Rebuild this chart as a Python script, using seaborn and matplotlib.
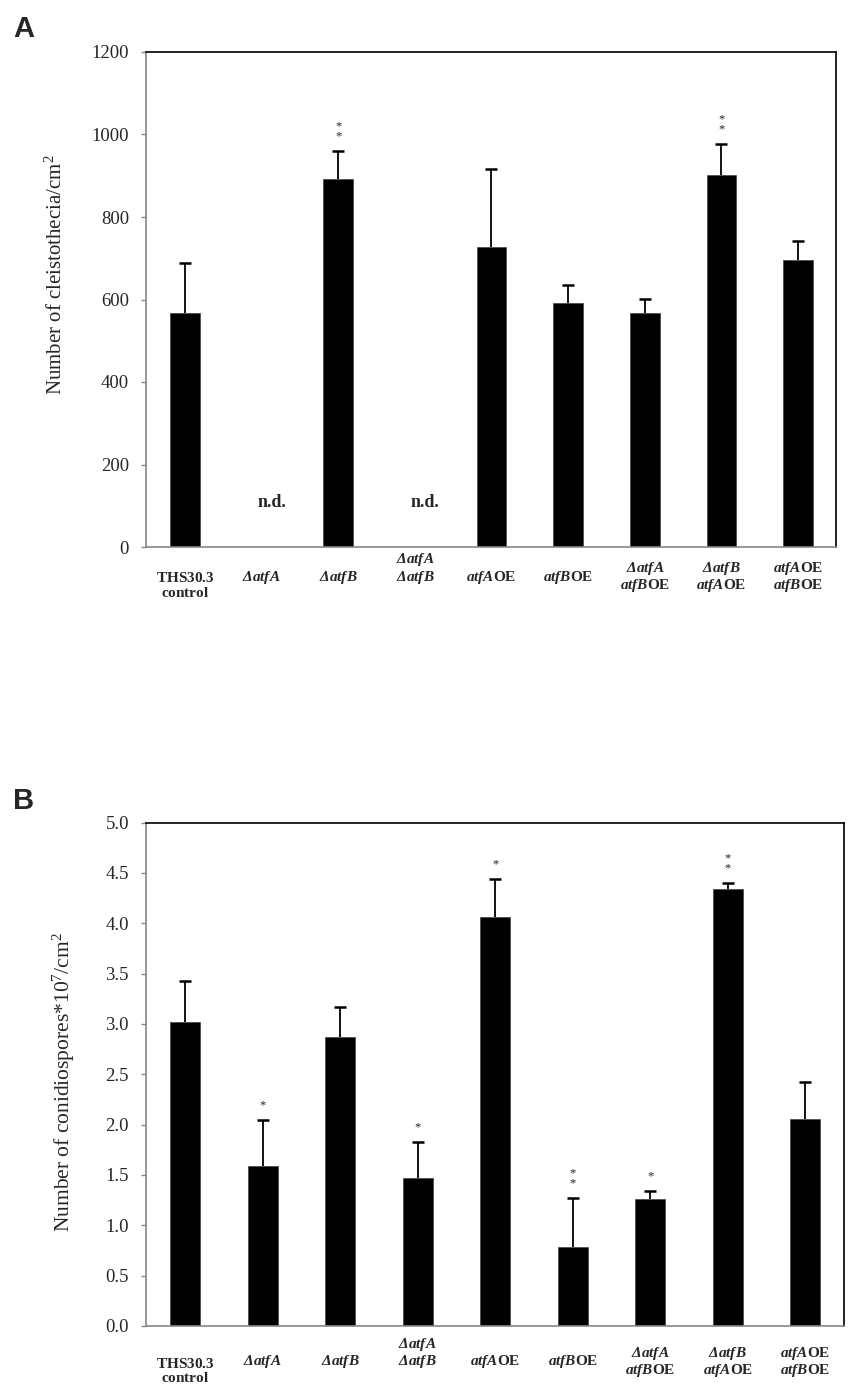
import numpy as np
import pandas as pd
import matplotlib
matplotlib.use("Agg")
import matplotlib.pyplot as plt
import matplotlib.transforms as mtransforms
import seaborn as sns

# ---------------- data ----------------
labels = [
    "$\\mathbf{THS30.3}$\n$\\mathbf{control}$",
    r"$\mathbfit{Δatf A}$",
    r"$\mathbfit{Δatf B}$",
    "$\\mathbfit{Δatf A}$\n$\\mathbfit{Δatf B}$",
    r"$\mathbfit{atf A}$OE",
    r"$\mathbfit{atf B}$OE",
    "$\\mathbfit{Δatf A}$\n$\\mathbfit{atf B}$OE",
    "$\\mathbfit{Δatf B}$\n$\\mathbfit{atf A}$OE",
    "$\\mathbfit{atf A}$OE\n$\\mathbfit{atf B}$OE",
]
cleisto_mean = [567, 0, 893, 0, 727, 592, 567, 901, 696]
cleisto_err = [121, 0, 67, 0, 189, 43, 34, 77, 46]
cleisto_sig = ["", "", "**", "", "", "", "", "**", ""]
cleisto_nd = [False, True, False, True, False, False, False, False, False]

conidia_mean = [3.02, 1.59, 2.87, 1.47, 4.06, 0.78, 1.26, 4.34, 2.06]
conidia_err = [0.41, 0.46, 0.30, 0.36, 0.38, 0.49, 0.08, 0.06, 0.36]
conidia_sig = ["", "*", "", "*", "*", "**", "*", "**", ""]

# ---------------- style ----------------
sns.set_style("white")
plt.rcParams["font.family"] = ["Liberation Serif", "DejaVu Serif"]
plt.rcParams["mathtext.fontset"] = "custom"
plt.rcParams["mathtext.rm"] = "Liberation Serif"
plt.rcParams["mathtext.it"] = "Liberation Serif:italic"
plt.rcParams["mathtext.bf"] = "Liberation Serif:bold"
plt.rcParams["mathtext.bfit"] = "Liberation Serif:italic:bold"

W, H = 854, 1392
fig = plt.figure(figsize=(W / 100, H / 100), dpi=100)


def fr(x0, y0, x1, y1):
    return [x0 / W, 1 - y1 / H, (x1 - x0) / W, (y1 - y0) / H]


axA = fig.add_axes(fr(146.5, 52, 836.5, 547))
axB = fig.add_axes(fr(146.5, 822.5, 844, 1326))

# vertical alignment of the multi-line category labels in the original
valign = ["top", "c", "c", "bottom", "c", "c", "c", "c", "c"]


def draw(ax, mean, err, sig, ylim, yticks, fmt, ylabel, label_xy, lab_px,
         line_px, ylab_size):
    df = pd.DataFrame({"cat": [str(i) for i in range(len(mean))], "val": mean})
    sns.barplot(data=df, x="cat", y="val", color="black", width=0.39,
                saturation=1, ax=ax, edgecolor="#444444", linewidth=0.5)
    xs = np.arange(len(mean))
    m = np.array(mean, dtype=float)
    e = np.array(err, dtype=float)
    keep = e > 0
    _, caps, _ = ax.errorbar(xs[keep], m[keep],
                             yerr=[np.zeros(keep.sum()), e[keep]],
                             fmt="none", ecolor="black", elinewidth=1.3,
                             capsize=4, capthick=1.8, zorder=3)
    caps[0].set_visible(False)  # only the upper cap, as in the original
    for i, s in enumerate(sig):
        if s:
            ax.annotate("\n".join(list(s)), xy=(i, m[i] + e[i]),
                        xytext=(0, 6), textcoords="offset points",
                        ha="center", va="bottom", fontsize=9,
                        linespacing=0.8, color="#222222")
    ax.set_xlim(-0.5, len(mean) - 0.5)
    ax.set_ylim(*ylim)
    ax.set_yticks(yticks)
    ax.set_yticklabels([fmt.format(v) for v in yticks], fontsize=13.5)
    ax.set_xticks(xs)
    ax.set_xticklabels([])
    ax.tick_params(axis="x", length=0)
    ax.tick_params(axis="y", length=3.6, width=1, color="#888888",
                   direction="out", pad=9, left=True)
    base = mtransforms.blended_transform_factory(ax.transData, ax.transAxes)
    for i, (lab, v) in enumerate(zip(labels, valign)):
        dy = -lab_px
        if v == "top":
            dy -= line_px / 2
        elif v == "bottom":
            dy += line_px / 2
        tr = base + mtransforms.ScaledTranslation(0, dy / 100, fig.dpi_scale_trans)
        ax.text(i, 0, lab, transform=tr, ha="center", va="center",
                fontsize=11, fontweight="bold", linespacing=1.08,
                multialignment="center")
    ax.set_xlabel("")
    ax.set_ylabel(ylabel, fontsize=ylab_size)
    ax.yaxis.set_label_coords(*label_xy)
    for sp in ["top", "right"]:
        ax.spines[sp].set_visible(True)
        ax.spines[sp].set_color("black")
        ax.spines[sp].set_linewidth(1.2)
    for sp in ["left", "bottom"]:
        ax.spines[sp].set_visible(True)
        ax.spines[sp].set_color("#888888")
        ax.spines[sp].set_linewidth(1.2)


draw(axA, cleisto_mean, cleisto_err, cleisto_sig, (0, 1200),
     [0, 200, 400, 600, 800, 1000, 1200], "{:.0f}",
     r"Number of cleistothecia/cm$^{2}$", (-0.115, 0.55), 30, 16.5, 15)
for i, nd in enumerate(cleisto_nd):
    if nd:
        axA.text(i + 0.13, 107, "n.d.", ha="center", va="center",
                 fontsize=13, fontweight="bold")

draw(axB, conidia_mean, conidia_err, conidia_sig, (0, 5.0),
     [0.0, 0.5, 1.0, 1.5, 2.0, 2.5, 3.0, 3.5, 4.0, 4.5, 5.0], "{:.1f}",
     r"Number of conidiospores*10$^{7}$/cm$^{2}$", (-0.10, 0.484), 36, 18,
     15.5)

fig.text(13 / W, 1 - 29 / H, "A", fontsize=21, fontweight="bold",
         family="Liberation Sans", va="center", ha="left")
fig.text(13 / W, 1 - 801 / H, "B", fontsize=21, fontweight="bold",
         family="Liberation Sans", va="center", ha="left")

fig.savefig("out.png", dpi=100, facecolor="white")
